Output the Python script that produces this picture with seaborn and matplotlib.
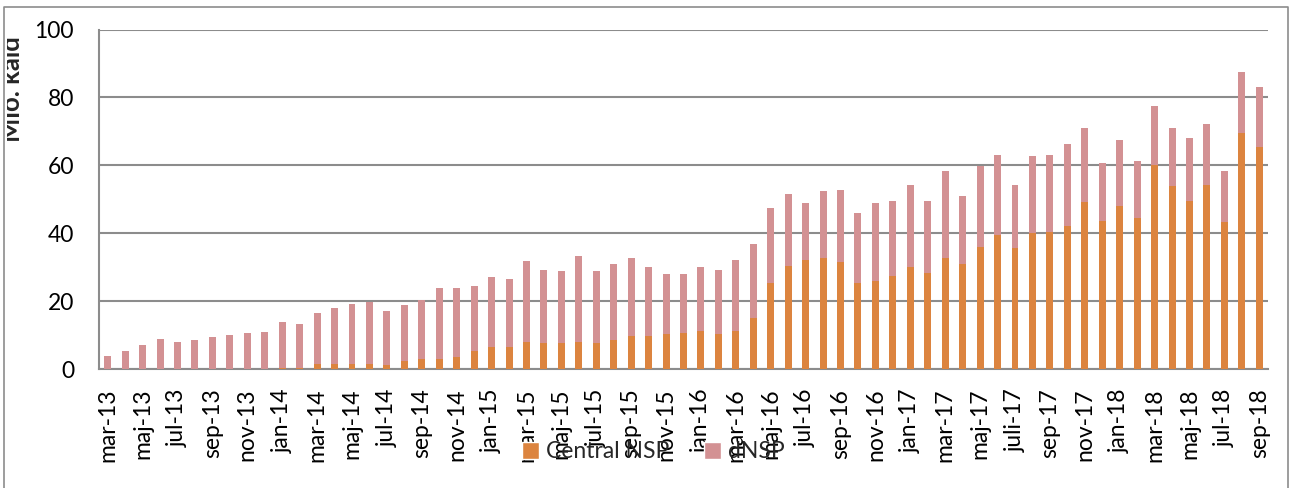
import pandas as pd
import seaborn as sns
import matplotlib.pyplot as plt
from matplotlib.patches import Patch, Rectangle
from matplotlib.lines import Line2D

# months mar-13 .. sep-18 (Danish abbreviations)
months = ["mar-13", "apr-13", "maj-13", "jun-13", "jul-13", "aug-13", "sep-13", "okt-13", "nov-13", "dec-13",
          "jan-14", "feb-14", "mar-14", "apr-14", "maj-14", "jun-14", "jul-14", "aug-14", "sep-14", "okt-14", "nov-14", "dec-14",
          "jan-15", "feb-15", "mar-15", "apr-15", "maj-15", "jun-15", "jul-15", "aug-15", "sep-15", "okt-15", "nov-15", "dec-15",
          "jan-16", "feb-16", "mar-16", "apr-16", "maj-16", "jun-16", "jul-16", "aug-16", "sep-16", "okt-16", "nov-16", "dec-16",
          "jan-17", "feb-17", "mar-17", "apr-17", "maj-17", "jun-17", "juli-17", "aug-17", "sep-17", "okt-17", "nov-17", "dec-17",
          "jan-18", "feb-18", "mar-18", "apr-18", "maj-18", "jun-18", "jul-18", "aug-18", "sep-18"]

# total height of each stacked bar (Central NSP + dNSP), mio. calls
total = [3.8, 5.3, 7.2, 8.9, 7.9, 8.7, 9.5, 10.2, 10.8, 11.0,
         13.8, 13.3, 16.6, 17.9, 19.3, 19.9, 17.2, 18.8, 20.5, 23.8, 24.0, 24.4,
         27.2, 26.6, 31.9, 29.2, 28.8, 33.3, 28.8, 31.0, 32.9, 30.1, 28.0, 28.1,
         30.1, 29.3, 32.2, 37.0, 47.4, 51.7, 48.9, 52.5, 52.8, 46.1, 48.9, 49.5,
         54.1, 49.5, 58.5, 51.1, 59.9, 63.2, 54.2, 62.7, 63.2, 66.2, 71.0, 60.6,
         67.5, 61.2, 77.6, 71.1, 68.0, 72.2, 58.4, 87.5, 83.1]

central = [0, 0, 0, 0, 0, 0, 0, 0, 0, 0,
           0.5, 0.5, 1.6, 1.7, 1.7, 1.7, 1.4, 2.3, 2.9, 3.1, 3.7, 5.3,
           6.7, 6.7, 8.1, 7.8, 7.6, 8.1, 7.8, 8.5, 9.9, 9.9, 10.5, 10.8,
           11.4, 10.5, 11.4, 15.2, 25.5, 30.5, 32.1, 32.8, 31.7, 25.5, 25.9, 27.6,
           30.2, 28.4, 32.9, 31.1, 36.1, 39.6, 35.8, 40.1, 40.4, 42.3, 49.1, 43.6,
           48.1, 44.6, 60.1, 53.9, 49.6, 54.3, 43.4, 69.6, 65.5]

df = pd.DataFrame({"month": months, "total": total, "central": central})

orange = "#DC843F"
pink = "#D39193"
grid_c = "#8C8C8C"

sns.set_style("white")
plt.rcParams["font.family"] = ["Lato", "DejaVu Sans"]

fig = plt.figure(figsize=(12.9, 4.88), dpi=100)
ax = fig.add_axes([99 / 1290, 1 - 369.3 / 488, (1268 - 99) / 1290, (369.3 - 29.5) / 488])

# dNSP on top: draw the total first, then Central NSP over it
sns.barplot(data=df, x="month", y="total", order=months, color=pink, width=0.4,
            saturation=1, errorbar=None, linewidth=0, ax=ax, zorder=3)
sns.barplot(data=df, x="month", y="central", order=months, color=orange, width=0.4,
            saturation=1, errorbar=None, linewidth=0, ax=ax, zorder=4)

ax.set_xlim(-0.5, len(months) - 0.5)
ax.set_ylim(0, 100)
ax.set_yticks([0, 20, 40, 60, 80, 100])
ax.yaxis.grid(True, color=grid_c, linewidth=1.5)
ax.set_axisbelow(True)
for s in ["top", "right"]:
    ax.spines[s].set_visible(False)
for s in ["left", "bottom"]:
    ax.spines[s].set_color(grid_c)
    ax.spines[s].set_linewidth(1.5)

# labels every second month, tick marks on category boundaries
ax.set_xticks(range(0, len(months), 2))
ax.set_xticklabels(months[::2], rotation=90, fontsize=16.5, color="black")
ax.set_xticks([i - 0.5 for i in range(len(months) + 1)], minor=True)
ax.tick_params(axis="x", which="major", length=0, pad=14)
ax.tick_params(axis="x", which="minor", length=6.5, width=1.5, color=grid_c, direction="out")
ax.tick_params(axis="y", length=6, width=1.5, color=grid_c, pad=12, labelsize=16.5, labelcolor="black")
ax.set_xlabel("")
ax.set_ylabel("")

# y label: baseline at x=20 px, glyph tops run into the frame on the left
fig.text(20 / 1290, 1 - 89 / 488, "Mio. kald", rotation=90, rotation_mode="anchor", fontsize=18.5,
         fontweight="bold", ha="center", va="baseline")

handles = [Patch(facecolor=orange, label="Central NSP"), Patch(facecolor=pink, label="dNSP")]
fig.legend(handles=handles, loc="center", bbox_to_anchor=(653 / 1290, 1 - 452 / 488), ncol=2,
           frameon=False, fontsize=16.5, handlelength=0.75, handleheight=0.75, handletextpad=0.3,
           columnspacing=1.5)

# outer chart frame (left part of the y label is clipped by it)
fig.patches.append(Rectangle((0, 0), 7 / 1290, 1, transform=fig.transFigure, facecolor="white",
                             edgecolor="none", zorder=10))
fig.lines.append(Line2D([4 / 1290, 4 / 1290, 1288 / 1290, 1288 / 1290], [0, 1 - 7 / 488, 1 - 7 / 488, 0],
                        transform=fig.transFigure, color="#8C8C8C", linewidth=1.2, zorder=11))

fig.savefig("out.png", dpi=100)
